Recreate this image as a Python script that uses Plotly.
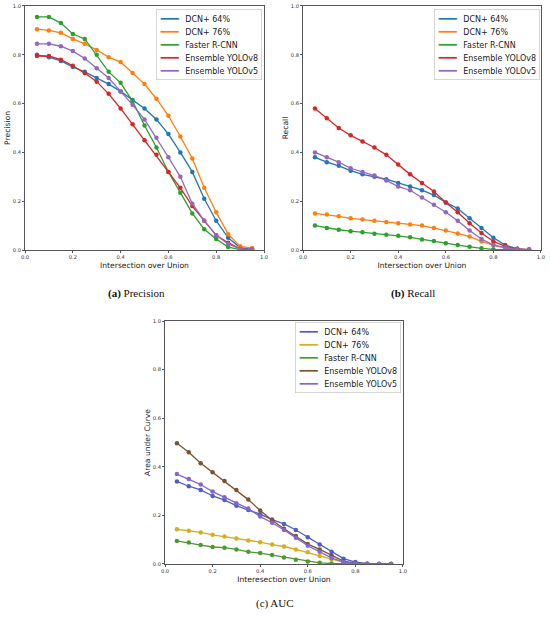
import plotly.graph_objects as go

iou = [0.05, 0.10, 0.15, 0.20, 0.25, 0.30, 0.35, 0.40, 0.45, 0.50,
       0.55, 0.60, 0.65, 0.70, 0.75, 0.80, 0.85, 0.90, 0.95]

models = ["DCN+ 64%", "DCN+ 76%", "Faster R-CNN", "Ensemble YOLOv8", "Ensemble YOLOv5"]

precision_dcn64 = [0.80, 0.79, 0.775, 0.75, 0.73, 0.705, 0.68, 0.65, 0.615, 0.58,
                   0.535, 0.475, 0.40, 0.32, 0.21, 0.12, 0.05, 0.01, 0.003]
precision_dcn76 = [0.905, 0.90, 0.89, 0.865, 0.845, 0.82, 0.79, 0.77, 0.725, 0.68,
                   0.62, 0.55, 0.465, 0.375, 0.255, 0.155, 0.065, 0.015, 0.008]
precision_frcnn = [0.955, 0.955, 0.93, 0.885, 0.865, 0.80, 0.73, 0.685, 0.61, 0.51,
                   0.42, 0.32, 0.235, 0.15, 0.085, 0.045, 0.012, 0.002, 0.0]
precision_yolo8 = [0.795, 0.795, 0.78, 0.755, 0.725, 0.69, 0.64, 0.58, 0.515, 0.45,
                   0.39, 0.32, 0.255, 0.18, 0.12, 0.06, 0.03, 0.005, 0.002]
precision_yolo5 = [0.845, 0.845, 0.835, 0.815, 0.785, 0.745, 0.705, 0.65, 0.595, 0.535,
                   0.46, 0.38, 0.30, 0.19, 0.12, 0.06, 0.025, 0.005, 0.002]

recall_dcn64 = [0.38, 0.36, 0.345, 0.325, 0.31, 0.30, 0.29, 0.275, 0.26, 0.245,
                0.225, 0.195, 0.17, 0.13, 0.09, 0.05, 0.02, 0.005, 0.002]
recall_dcn76 = [0.15, 0.145, 0.138, 0.13, 0.125, 0.12, 0.115, 0.11, 0.105, 0.10,
                0.09, 0.08, 0.068, 0.055, 0.035, 0.02, 0.008, 0.002, 0.0]
recall_frcnn = [0.10, 0.09, 0.083, 0.077, 0.073, 0.067, 0.062, 0.058, 0.052, 0.043,
                0.037, 0.028, 0.02, 0.013, 0.007, 0.003, 0.001, 0.0, 0.0]
recall_yolo8 = [0.58, 0.54, 0.50, 0.47, 0.445, 0.42, 0.39, 0.35, 0.31, 0.275,
                0.24, 0.195, 0.155, 0.11, 0.07, 0.035, 0.015, 0.005, 0.002]
recall_yolo5 = [0.40, 0.38, 0.36, 0.335, 0.32, 0.305, 0.285, 0.26, 0.245, 0.215,
                0.185, 0.155, 0.12, 0.08, 0.045, 0.02, 0.01, 0.003, 0.001]

auc_dcn64 = [0.34, 0.32, 0.305, 0.28, 0.263, 0.24, 0.222, 0.205, 0.183, 0.165,
             0.14, 0.11, 0.08, 0.05, 0.022, 0.008, 0.001, 0.0, 0.0]
auc_dcn76 = [0.143, 0.137, 0.13, 0.12, 0.113, 0.105, 0.097, 0.09, 0.08, 0.072,
             0.06, 0.048, 0.033, 0.02, 0.008, 0.002, 0.0, 0.0, 0.0]
auc_frcnn = [0.095, 0.088, 0.078, 0.07, 0.067, 0.06, 0.05, 0.045, 0.037, 0.027,
             0.018, 0.01, 0.005, 0.002, 0.0, 0.0, 0.0, 0.0, 0.0]
auc_yolo8 = [0.497, 0.46, 0.415, 0.378, 0.342, 0.305, 0.265, 0.22, 0.18, 0.145,
             0.115, 0.082, 0.06, 0.035, 0.012, 0.004, 0.001, 0.0, 0.0]
auc_yolo5 = [0.37, 0.35, 0.327, 0.298, 0.275, 0.25, 0.228, 0.195, 0.17, 0.14,
             0.108, 0.075, 0.05, 0.025, 0.008, 0.002, 0.0, 0.0, 0.0]

tab_colors = ["#1f77b4", "#ff7f0e", "#2ca02c", "#d62728", "#9467bd"]
auc_colors = ["#4f5fc0", "#d2b020", "#4a9a30", "#7a5530", "#8466d0"]

panels = [
    ([precision_dcn64, precision_dcn76, precision_frcnn, precision_yolo8, precision_yolo5],
     tab_colors, "x", "y", "Precision", "Intersection over Union"),
    ([recall_dcn64, recall_dcn76, recall_frcnn, recall_yolo8, recall_yolo5],
     tab_colors, "x2", "y2", "Recall", "Intersection over Union"),
    ([auc_dcn64, auc_dcn76, auc_frcnn, auc_yolo8, auc_yolo5],
     auc_colors, "x3", "y3", "Area under Curve", "Interesection over Union"),
]

fig = go.Figure()
for series, colors, xa, ya, _, _ in panels:
    for name, vals, col in zip(models, series, colors):
        fig.add_trace(go.Scatter(
            x=iou, y=vals, name=name, mode="lines+markers",
            line=dict(color=col, width=1.3),
            marker=dict(color=col, size=4.5),
            xaxis=xa, yaxis=ya, showlegend=False,
        ))

tick_font = dict(family="DejaVu Sans", size=5.2, color="#333")
title_font = dict(family="DejaVu Sans", size=7.6, color="#222")
frame = dict(showline=True, linecolor="#555", linewidth=0.8, mirror=True,
             ticks="outside", ticklen=2, tickcolor="#555", showgrid=False,
             zeroline=False, tickfont=tick_font, range=[0, 1], dtick=0.2,
             tickformat=".1f", automargin=False)

domains = [
    ([0.0455, 0.48], [0.5948, 0.9903]),
    ([0.551, 0.9836], [0.5948, 0.9903]),
    ([0.30, 0.7327], [0.0859, 0.4797]),
]

layout = dict(
    width=550, height=617, margin=dict(l=0, r=0, t=0, b=0, autoexpand=False),
    paper_bgcolor="white", plot_bgcolor="white",
    font=dict(family="DejaVu Sans"), showlegend=False,
)
for i, ((xd, yd), p) in enumerate(zip(domains, panels)):
    sfx = "" if i == 0 else str(i + 1)
    layout["xaxis" + sfx] = dict(frame, domain=xd, anchor="y" + sfx,
                                 title=dict(text=p[5], font=title_font, standoff=3))
    layout["yaxis" + sfx] = dict(frame, domain=yd, anchor="x" + sfx,
                                 title=dict(text=p[4], font=title_font, standoff=1))

fig.update_layout(**layout)

# compact matplotlib-style legend boxes, one per panel
legend_pos = [(0.477, 0.986), (0.981, 0.986), (0.729, 0.478)]
for (series, colors, *_), (lx, ly) in zip(panels, legend_pos):
    rows = [f"<span style='color:{c}'>━━━</span>&nbsp;&nbsp;<span style='font-size:8px'>{m}</span>"
            for m, c in zip(models, colors)]
    fig.add_annotation(text="<br>".join(rows), x=lx, y=ly, xref="paper", yref="paper",
                       showarrow=False, xanchor="right", yanchor="top", align="left",
                       bgcolor="rgba(255,255,255,0.9)", bordercolor="#ccc", borderwidth=0.8,
                       borderpad=3, font=dict(family="DejaVu Sans", size=10, color="#222"))

captions = [("<b>(a)</b> Precision", 0.249, 293), ("<b>(b)</b> Recall", 0.75, 293),
            ("(c) AUC", 0.5, 603)]
for text, xp, ypx in captions:
    fig.add_annotation(text=text, x=xp, y=1 - ypx / 617, xref="paper", yref="paper",
                       showarrow=False, xanchor="center", yanchor="middle",
                       font=dict(family="Liberation Serif", size=11, color="#111"))

# the page body has a default 8px margin; drop it so the figure sits at the window origin
fig.write_html("out.html", config={"displayModeBar": False},
               post_script="document.body.style.margin='0px';")
